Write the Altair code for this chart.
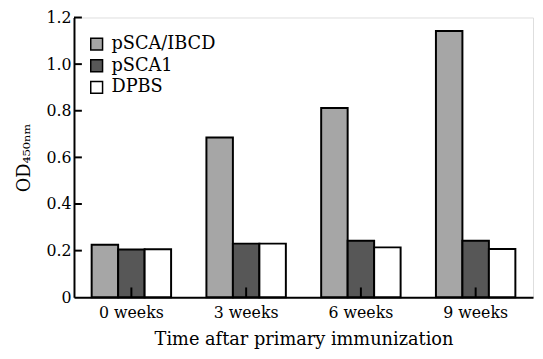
import altair as alt
import pandas as pd

weeks = ["0 weeks", "3 weeks", "6 weeks", "9 weeks"]
groups = ["pSCA/IBCD", "pSCA1", "DPBS"]
ibcd = [0.225, 0.685, 0.812, 1.142]
psca1 = [0.205, 0.230, 0.242, 0.242]
dpbs = [0.206, 0.230, 0.214, 0.207]
y_ticks = [0.2, 0.4, 0.6, 0.8, 1.0, 1.2]
colors = ["#a6a6a6", "#575757", "#ffffff"]

rows = []
for g, vals in zip(groups, [ibcd, psca1, dpbs]):
    for w, v in zip(weeks, vals):
        rows.append({"week": w, "group": g, "od": v})
df = pd.DataFrame(rows)
tick_df = pd.DataFrame({"week": weeks})
ytick_df = pd.DataFrame({"v": y_ticks})

FONT = "DejaVu Serif"
W = 466
H = 284

x_axis = alt.Axis(
    title="Time aftar primary immunization",
    labelFont=FONT, labelFontSize=16, labelColor="black", labelAngle=0,
    labelPadding=8, ticks=False, domainColor="black", domainWidth=2,
    titleFont=FONT, titleFontSize=18, titleFontWeight="normal",
    titleColor="black", titlePadding=10, grid=False,
)
y_axis = alt.Axis(
    title="OD₄₅₀ₙₘ", values=[0, 0.2, 0.4, 0.6, 0.8, 1.0, 1.2],
    labelExpr="datum.value == 0 ? '0' : format(datum.value, '.1f')",
    labelFont=FONT, labelFontSize=16, labelColor="black", labelPadding=3,
    ticks=False, domainColor="black", domainWidth=2, grid=False,
    titleFont=FONT, titleFontSize=18, titleFontWeight="normal",
    titleColor="black", titlePadding=13,
)

x_scale = alt.Scale(domain=weeks, paddingInner=0, paddingOuter=0)
y_scale = alt.Scale(domain=[0, 1.2], nice=False)

bars = alt.Chart(df).mark_bar(stroke="black", strokeWidth=2).encode(
    x=alt.X("week:N", sort=weeks, scale=x_scale, axis=x_axis),
    xOffset=alt.XOffset("group:N", sort=groups,
                        scale=alt.Scale(domain=groups, paddingInner=0, paddingOuter=0.667)),
    y=alt.Y("od:Q", scale=y_scale, axis=y_axis),
    color=alt.Color(
        "group:N", sort=groups,
        scale=alt.Scale(domain=groups, range=colors),
        legend=alt.Legend(
            title=None, orient="none", legendX=14, legendY=18,
            symbolType="square", symbolSize=144, symbolStrokeColor="black",
            symbolStrokeWidth=1.5, labelFont=FONT, labelFontSize=18,
            labelColor="black", labelOffset=6, rowPadding=4,
        ),
    ),
)

xticks = alt.Chart(tick_df).mark_rule(color="black", strokeWidth=2).encode(
    x=alt.X("week:N", sort=weeks, scale=x_scale, axis=x_axis),
    xOffset=alt.value(W / 8),
    y=alt.datum(0, scale=y_scale, axis=y_axis),
    y2=alt.datum(0.042),
)

yticks = alt.Chart(ytick_df).mark_rule(color="black", strokeWidth=2).encode(
    y=alt.Y("v:Q", scale=y_scale, axis=y_axis),
    x=alt.value(0),
    x2=alt.value(8),
)

chart = alt.layer(bars, xticks, yticks).properties(
    width=W, height=H,
    autosize=alt.AutoSizeParams(type="none"),
    padding={"left": 67, "top": 7, "right": 2, "bottom": 58},
).configure_view(stroke=None).configure(background="white")

chart.save("out.html", embed_options={"renderer": "svg", "actions": False})
